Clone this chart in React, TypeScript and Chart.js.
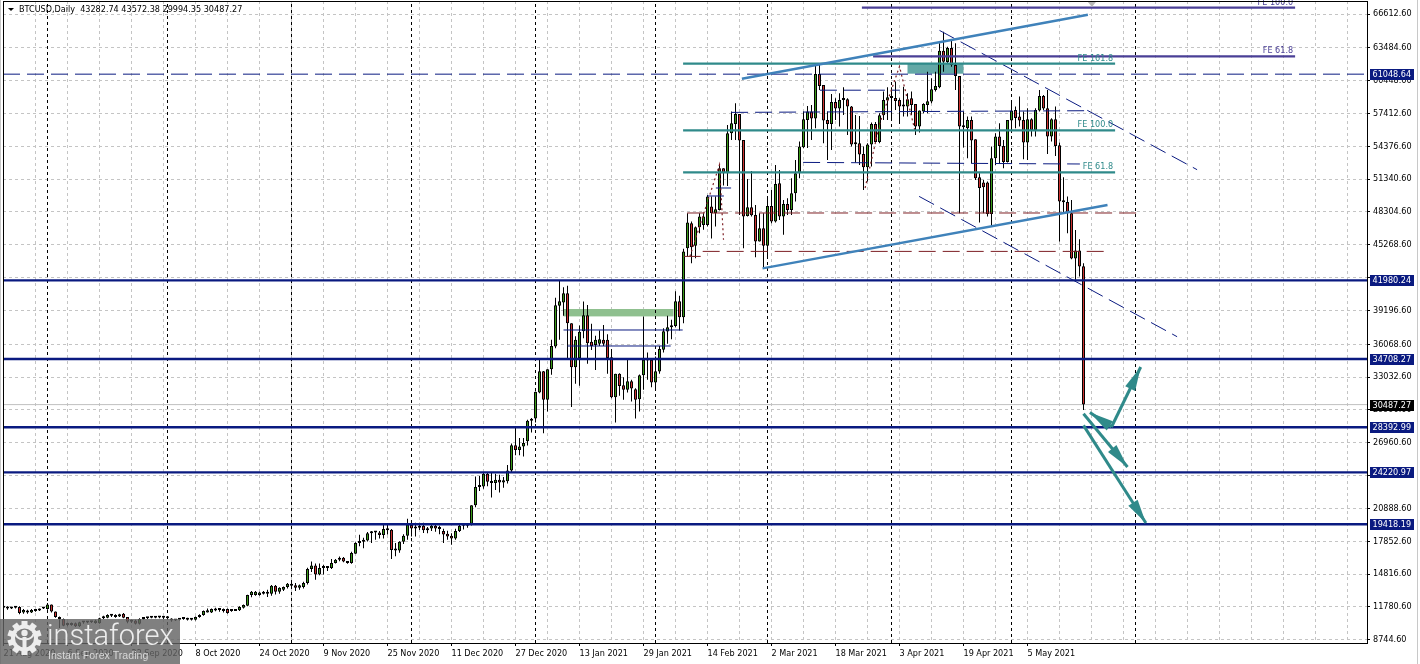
import React, { useEffect, useRef } from "react";
import { Chart, registerables } from "chart.js";

Chart.register(...registerables);

const opens = [
11890,11700,11640,11700,11770,11270,11450,11270,11450,11450,
11640,11580,12010,11360,10840,10650,10280,10100,10280,9980,
10350,10340,10350,10290,10280,10720,10780,10960,10840,10900,
11150,10840,10530,10530,10220,10650,10720,10780,10780,10810,
10840,10780,10650,10530,10590,10650,10720,10590,10590,10840,
11030,11270,11270,11440,11500,11390,11580,11390,11400,11460,
11700,11890,12870,12870,12870,13000,13000,13000,13730,13180,
13360,13610,13730,13790,13550,13610,13980,15280,15600,14780,
15370,15370,15370,15830,16140,16320,15980,15830,16700,17680,
17810,17930,18600,18660,18660,18420,18980,18920,17050,17000,
17800,18360,19350,19040,19100,19280,18860,19040,19280,19040,
18790,18550,18360,18110,18790,19280,19280,19470,21190,22860,
22920,24090,23350,23230,23530,23290,23410,24400,26740,26300,
26620,27100,29000,29210,31610,33580,30930,33770,35860,39620,
39930,40790,38020,33950,34780,37280,38760,36300,36010,36110,
36480,36480,34880,31180,33340,32290,31860,32660,31920,30990,
33210,34570,34630,32530,33550,35560,37250,37650,37770,40050,
38570,44950,47265,45169,46895,47110,47110,48805,48189,48497,
52348,51886,55583,56446,57370,54967,47942,48743,48035,45570,
46803,45169,48867,47418,50961,47880,49051,48497,50037,51886,
54289,56815,57586,56939,61067,60050,56815,56446,58479,57863,
58726,58726,58048,54659,54659,53673,52440,54535,56446,54782,
57247,58602,58910,58849,58664,58109,58048,58818,58294,56199,
57586,58202,58510,59588,59835,63224,62176,63470,61899,60882,
56199,56045,56815,55028,51516,51023,51023,48127,53272,55275,
54412,52933,56754,57740,57124,56815,54720,56877,55891,57678,
59034,57894,55275,56877,54474,49298,49236,48189,44000,44738,
43282.74];

const highs = [
11950,11830,11760,11830,11830,11580,11520,11580,11520,11640,
11760,12130,12010,11360,10900,10700,10340,10340,10340,10400,
10400,10400,10470,10590,10780,10960,11090,11090,11090,11150,
11210,10840,10590,10590,10720,10840,10840,10840,10900,10900,
10900,10840,10720,10660,10720,10780,10780,10650,10900,11090,
11450,11640,11640,11700,11640,11640,11640,11450,11500,11830,
12010,12900,13240,13240,13180,13240,13370,13800,13800,13600,
13670,13980,14040,13980,13860,14100,15400,15980,15800,15800,
15670,15500,16200,16220,16450,16400,16030,16880,17760,18460,
18170,18700,18790,18790,18800,19360,19470,18980,17680,17860,
18500,19930,19800,19560,19560,19560,19160,19400,19500,19280,
19000,18820,18600,19000,19400,19400,19500,21190,23840,23880,
24250,24190,24200,24100,24000,23800,24900,26900,28400,27400,
27400,29100,29240,31700,34630,33600,33770,36480,40360,41960,
41350,41470,38020,36800,37800,40020,39710,37960,36850,37340,
37840,37000,35620,33340,33400,33030,34690,32780,32000,33270,
38630,35300,34780,34930,35920,37560,38700,38330,40980,40550,
44900,48190,47418,46956,48189,48190,49883,49729,49729,52656,
52348,56353,57586,58356,57370,54967,51362,52101,48959,48189,
48189,49729,50345,52656,52194,49421,49575,51423,53118,54813,
57586,58109,58202,61899,61899,60050,57586,59219,58818,59280,
59835,58818,58109,57278,57185,54351,54659,56569,56631,57432,
59434,59835,59835,60359,58818,59896,59280,59434,58294,57678,
58356,61283,60667,61283,63902,64980,63594,64271,63902,60882,
57586,57124,57124,55028,51886,51269,51116,54351,55583,56507,
54967,56815,58510,58048,58972,57586,57894,56969,57894,59588,
59126,59588,56969,58048,54721,51516,49729,49421,46648,45785,
43572.38];

const lows = [
11640,11520,11580,11640,11090,11150,11150,11210,11330,11390,
11580,11520,11270,10780,9820,9980,9980,10040,9920,9920,
10230,10280,10290,10220,10220,10660,10720,10840,10780,10840,
10720,10280,10290,10160,10160,10590,10660,10720,10720,10720,
10650,10590,10400,10470,10530,10590,10530,10530,10530,10780,
10960,11270,11210,11380,11330,11270,11150,11330,11390,11390,
11640,11830,12680,12810,12810,12930,12700,12810,12930,12990,
13240,13480,13550,13240,13360,13480,13860,15000,14290,14700,
14780,15100,15280,15800,16000,15900,15770,15770,16700,17380,
17200,17830,17680,18000,18100,18100,18470,16200,16460,16800,
17600,18000,18300,18300,18900,18620,18600,18800,18720,18500,
17680,18000,17530,18000,18700,18950,19100,19320,21000,22500,
22700,22950,21900,22600,22350,22800,23200,24200,25800,25800,
25700,26700,27900,28840,31550,27850,29850,33240,35700,36480,
38700,34790,30260,32410,32230,36630,34260,35550,33700,35920,
35920,33340,31080,28840,31300,30930,31610,30780,29200,29850,
31860,32780,32100,31860,33340,35300,36110,36540,37650,37340,
38020,44180,43567,44029,46340,46650,46956,45847,46956,48435,
50746,50715,54967,54967,48035,44953,47880,47880,44122,45570,
43105,44183,47265,47326,47572,46186,48035,48035,49267,51423,
54197,54227,54967,56045,59588,54659,53118,54043,56815,56199,
57278,55429,54351,52872,52656,50345,51116,52502,54720,54659,
56815,56815,56815,57740,56446,57124,57124,57278,55429,55645,
57432,57432,58356,59434,59742,61283,62053,61745,59588,48189,
54258,53272,52810,51269,47326,48189,47880,46956,52656,52810,
52348,52872,55891,56045,56199,53180,53118,55275,55275,57586,
57740,53673,54813,53488,45570,48189,46340,43937,42027,42335,
29994.35];

const closes = [
11700,11640,11700,11760,11210,11500,11270,11500,11390,11580,
11700,12010,11360,10840,10650,10040,10100,10290,9980,10350,
10340,10350,10400,10530,10720,10900,11030,10970,11030,11090,
10780,10400,10400,10220,10650,10720,10780,10780,10810,10840,
10780,10720,10530,10590,10650,10680,10590,10590,10840,11030,
11400,11460,11580,11580,11500,11540,11210,11400,11450,11770,
11950,12870,13180,13180,13120,13120,13120,13730,13180,13550,
13610,13920,13920,13550,13790,13980,15290,15600,14780,15370,
15370,15370,15830,16140,16290,15980,15830,16760,17680,17810,
17930,18600,18660,18660,18420,18980,18860,17050,17000,17800,
18360,19400,19040,19100,19280,18860,19040,19280,19040,18980,
18480,18300,18110,18790,19280,19280,19350,21190,22860,22980,
24090,23350,23230,23530,23290,23500,24400,26740,26300,26620,
26930,29000,29020,31670,33580,30930,33770,35920,39680,40050,
40790,38020,33950,36480,37220,38760,36170,35920,36480,36540,
36110,34810,31180,33340,32220,31860,32660,31980,30930,33210,
34630,34690,32530,33580,35620,37280,37650,37830,40050,38570,
44650,47330,45046,46895,47880,47880,49729,48189,48559,52348,
51886,55583,56507,57370,54905,47880,48743,48004,45570,46803,
45169,48867,47418,50900,47880,49051,48497,50037,51886,54351,
56877,57586,56939,61067,59958,56754,56446,58479,57863,58664,
58664,58048,54535,54566,53611,52440,54535,56446,54782,57247,
58664,58910,58849,58571,58048,58048,58726,58202,56199,57678,
58294,58541,59650,59958,63224,62207,63470,61899,60882,56199,
56140,56815,54905,51423,50530,50592,48127,53272,55275,54412,
52933,56815,57678,57000,56754,54720,56877,55891,57740,59034,
57863,55275,56877,54412,49267,49205,48189,44000,44738,43259,
30487.27];

const priceTicks = [66612.6,63484.6,60448.6,57412.6,54376.6,51340.6,48304.6,45268.6,42232.6,39196.6,36068.6,33032.6,29996.6,26960.6,23924.6,20888.6,17852.6,14816.6,11780.6,8744.6];
const coveredTickLabels = [42232.6];
const dateLabels = ["21 Aug 2020","6 Sep 2020","22 Sep 2020","8 Oct 2020","24 Oct 2020","9 Nov 2020","25 Nov 2020","11 Dec 2020","27 Dec 2020","13 Jan 2021","29 Jan 2021","14 Feb 2021","2 Mar 2021","18 Mar 2021","3 Apr 2021","19 Apr 2021","5 May 2021"];
const gridIndices = [0,8,16,24,32,40,48,56,64,72,80,88,96,104,112,120,128,136,144,152,160,168,176,184,192,200,208,216,224,232,240,248,256,264,272,280,288,296,304,312,320,328,336];
const monthStarts = [11,41,72,102,133,163,191,222,252,283];

const supportLevels = [41980.24,34708.27,28392.99,24220.97,19418.19];
const dashedLevel = 61048.64;
const lastPrice = 30487.27;

const xMin = -0.125, xMax = 340.875, yMin = 8442, yMax = 67815;

type P = [number, number];
const tealLevels = [62016,55848,51964];
const tealSpan: P = [169.9,277.9];
const tealNames = ["FE 161.8","FE 100.0","FE 61.8"];
const purpleLevels = [67195,62691];
const purpleStarts = [214.6,217.4];
const purpleEnd = 322.9;
const purpleNames = ["FE 100.0","FE 61.8"];
const channelUp: P[] = [[184.6,60629],[271.1,66548]];
const channelLow: P[] = [[189.75,43086],[276,48949]];
const diagonalA: P[] = [[234,65096],[298.4,52214]];
const diagonalB: P[] = [[228.9,49745],[293.4,36770]];
const maroonA: P[] = [[170.9,48209],[283.3,48209]];
const maroonB: P[] = [[174.8,44658],[275.4,44658]];
const maroonC: P[] = [[170.1,44195],[174.3,44195]];
const zigzagA: P[] = [[171.6,44195],[179,52676],[180,45740]];
const zigzagB: P[] = [[215.4,50521],[219.1,56532],[224,61767],[227.9,55756]];
const navyDashA: P[] = [[181.9,57513],[271.6,57670]];
const navyDashB: P[] = [[199.9,52889],[269.1,52741]];
const navyDashC: P[] = [[204.1,59566],[224.1,59566]];
const navyThinA: P[] = [[178.1,50521],[181.9,50521]];
const navyThinB: P[] = [[175.9,49782],[180.1,49782]];
const navyThinC: P[] = [[140,37389],[169.8,37389]];
const navyThinD: P[] = [[141,35910],[166.8,35910]];
const tealZone = [226,240,62016,61092];
const greenZone = [140,167.5,39331,38647];
const arrowA: P[] = [[270,29649],[281,24720]];
const arrowB: P[] = [[270,28567],[285.6,19541]];
const arrowC: P[] = [[277,28419],[271.6,29769]];
const arrowD: P[] = [[277,28419],[284.3,33968]];

const NAVY = "#0a1a80", TEAL = "#2f8a8a", PURPLE = "#4a3f96", STEEL = "#3f82ba", MAROON = "#7d1f24";
const FONT = "'DejaVu Sans Condensed', 'Liberation Sans', sans-serif";

const seg = (pts: P[], color: string, width: number, dash: number[] = [], order = 2) => ({
  type: "line" as const,
  data: pts.map(([x, y]) => ({ x, y })),
  borderColor: color,
  borderWidth: width,
  borderDash: dash,
  pointRadius: 0,
  tension: 0,
  fill: false,
  order,
});

const overlay = {
  id: "overlay",
  beforeDatasetsDraw(chart: any) {
    const { ctx, scales: { x, y } } = chart;
    const zone = (z: number[], c: string) => {
      ctx.fillStyle = c;
      const l = x.getPixelForValue(z[0]), r = x.getPixelForValue(z[1]);
      const t = y.getPixelForValue(z[2]), b = y.getPixelForValue(z[3]);
      ctx.fillRect(l, t, r - l, b - t);
    };
    zone(tealZone, "#63a8a6");
    zone(greenZone, "#8fc08f");
  },
  afterDatasetsDraw(chart: any) {
    const { ctx, scales: { x, y } } = chart;
    ctx.save();
    ctx.fillStyle = TEAL;
    [arrowA, arrowB, arrowC, arrowD].forEach((a) => {
      const x0 = x.getPixelForValue(a[0][0]), y0 = y.getPixelForValue(a[0][1]);
      const x1 = x.getPixelForValue(a[1][0]), y1 = y.getPixelForValue(a[1][1]);
      const ang = Math.atan2(y1 - y0, x1 - x0);
      const len = 24, half = 5.5;
      const bx = x1 - Math.cos(ang) * len, by = y1 - Math.sin(ang) * len;
      ctx.beginPath();
      ctx.moveTo(x1, y1);
      ctx.lineTo(bx - Math.sin(ang) * half, by + Math.cos(ang) * half);
      ctx.lineTo(bx + Math.sin(ang) * half, by - Math.cos(ang) * half);
      ctx.closePath();
      ctx.fill();
    });
    ctx.font = "9px " + FONT;
    ctx.textBaseline = "bottom";
    ctx.textAlign = "right";
    ctx.fillStyle = TEAL;
    tealLevels.forEach((v, k) => ctx.fillText(tealNames[k], x.getPixelForValue(tealSpan[1]) - 2, y.getPixelForValue(v) - 1));
    ctx.fillStyle = PURPLE;
    purpleLevels.forEach((v, k) => ctx.fillText(purpleNames[k], x.getPixelForValue(purpleEnd) - 2, y.getPixelForValue(v) - 1));
    const mx = x.getPixelForValue(272.1);
    ctx.fillStyle = "#b8b8b8";
    ctx.beginPath();
    ctx.moveTo(mx - 4, 2);
    ctx.lineTo(mx + 4, 2);
    ctx.lineTo(mx, 7);
    ctx.closePath();
    ctx.fill();
    ctx.restore();
  },
  afterDraw(chart: any) {
    const { ctx, chartArea: a, scales: { y } } = chart;
    ctx.save();
    ctx.strokeStyle = "#000";
    ctx.lineWidth = 1;
    ctx.strokeRect(a.left + 0.5, a.top + 0.5, a.right - a.left, a.bottom - a.top);
    ctx.strokeStyle = "#c8c8c8";
    ctx.beginPath();
    ctx.moveTo(0.5, 0);
    ctx.lineTo(0.5, 664);
    ctx.moveTo(1417.5, 0);
    ctx.lineTo(1417.5, 664);
    ctx.stroke();
    ctx.fillStyle = "#000";
    ctx.beginPath();
    ctx.moveTo(8, 8);
    ctx.lineTo(14, 8);
    ctx.lineTo(11, 11);
    ctx.closePath();
    ctx.fill();
    ctx.font = "9px " + FONT;
    ctx.textBaseline = "middle";
    ctx.textAlign = "left";
    ctx.fillText("BTCUSD,Daily  43282.74 43572.38 29994.35 30487.27", 19, 9.5);
    const box = (v: number, bg: string) => {
      const py = Math.round(y.getPixelForValue(v));
      ctx.fillStyle = bg;
      ctx.fillRect(1370, py - 5, 44, 11);
      ctx.fillStyle = "#fff";
      ctx.font = "9px " + FONT;
      ctx.fillText(v.toFixed(2), 1372.5, py + 0.5);
    };
    [dashedLevel, ...supportLevels].forEach((v) => box(v, NAVY));
    box(lastPrice, "#000");
    ctx.fillStyle = "rgba(99,99,99,0.81)";
    ctx.fillRect(0, 619, 180, 45);
    const cx = 24.5, cy = 638;
    ctx.fillStyle = "#ededed";
    for (let k = 0; k < 10; k++) {
      const t = (k / 10) * Math.PI * 2;
      ctx.save();
      ctx.translate(cx, cy);
      ctx.rotate(t);
      ctx.fillRect(-3, -17, 6, 6);
      ctx.restore();
    }
    ctx.beginPath();
    ctx.arc(cx, cy, 13.5, 0, Math.PI * 2);
    ctx.fill();
    ctx.fillStyle = "#7d7d7d";
    ctx.beginPath();
    ctx.arc(cx, cy, 9.5, 0, Math.PI * 2);
    ctx.fill();
    ctx.fillStyle = "#ededed";
    ctx.beginPath();
    ctx.arc(cx, cy - 5, 3.2, 0, Math.PI * 2);
    ctx.fill();
    ctx.fillRect(cx - 2, cy - 1, 4, 12);
    ctx.strokeStyle = "#ededed";
    ctx.lineWidth = 2;
    ctx.beginPath();
    ctx.moveTo(cx - 9, cy - 4);
    ctx.quadraticCurveTo(cx - 7, cy + 2, cx, cy + 1);
    ctx.quadraticCurveTo(cx + 7, cy + 2, cx + 9, cy - 4);
    ctx.stroke();
    ctx.fillStyle = "#ededed";
    ctx.font = "300 29px Roboto, sans-serif";
    ctx.textBaseline = "alphabetic";
    ctx.fillText("instaforex", 47, 645);
    ctx.fillStyle = "#d8d8d8";
    ctx.font = "10.6px 'Liberation Sans', sans-serif";
    ctx.fillText("Instant Forex Trading", 48, 659);
    ctx.restore();
  },
};

export default function App() {
  const ref = useRef<HTMLCanvasElement | null>(null);
  useEffect(() => {
    const idx = opens.map((_, i) => i);
    const fullX = (v: number): P[] => [[xMin, v], [xMax, v]];
    const chart = new Chart(ref.current as HTMLCanvasElement, {
      type: "bar",
      data: {
        datasets: [
          ...monthStarts.map((m) => seg([[m, yMin], [m, yMax]], "#000", 1, [3, 3], 40)),
          seg(fullX(lastPrice), "#c0c0c0", 1, [], 30),
          {
            type: "bar" as const,
            data: idx.map((i) => ({ x: i, y: [lows[i], highs[i]] })),
            backgroundColor: "#000",
            barThickness: 1,
            grouped: false,
            borderWidth: 0,
            inflateAmount: 0,
            order: 20,
          },
          {
            type: "bar" as const,
            data: idx.map((i) => ({ x: i, y: [opens[i], closes[i]] })),
            backgroundColor: idx.map((i) => (closes[i] >= opens[i] ? "#3a9a18" : "#cc3230")),
            borderColor: "#000",
            borderWidth: 1,
            borderSkipped: false,
            barThickness: 3,
            grouped: false,
            minBarLength: 2,
            inflateAmount: 0,
            order: 10,
          },
          seg(fullX(dashedLevel), NAVY, 1, [17, 7]),
          ...supportLevels.map((v) => seg(fullX(v), NAVY, 2.4, [], 1)),
          ...tealLevels.map((v) => seg([[tealSpan[0], v], [tealSpan[1], v]], TEAL, 2.2)),
          ...purpleLevels.map((v, k) => seg([[purpleStarts[k], v], [purpleEnd, v]], PURPLE, 2.2)),
          seg(channelUp, STEEL, 2.4, [], 1),
          seg(channelLow, STEEL, 2.4, [], 1),
          seg(diagonalA, NAVY, 1, [17, 7]),
          seg(diagonalB, NAVY, 1, [17, 7]),
          seg(maroonA, MAROON, 1, [17, 7]),
          seg(maroonB, MAROON, 1, [17, 7]),
          seg(maroonC, MAROON, 1),
          seg(zigzagA, MAROON, 1.2, [2, 3]),
          seg(zigzagB, MAROON, 1.2, [2, 3]),
          seg(navyDashA, NAVY, 1, [17, 7]),
          seg(navyDashB, NAVY, 1, [17, 7]),
          seg(navyDashC, NAVY, 1, [17, 7]),
          seg(navyThinA, NAVY, 1),
          seg(navyThinB, NAVY, 1),
          seg(navyThinC, NAVY, 1),
          seg(navyThinD, NAVY, 1),
          seg(arrowA, TEAL, 3, [], 0),
          seg(arrowB, TEAL, 3, [], 0),
          seg(arrowC, TEAL, 3, [], 0),
          seg(arrowD, TEAL, 3, [], 0),
        ] as any,
      },
      options: {
        animation: false,
        responsive: false,
        devicePixelRatio: 1,
        layout: { padding: { left: 3, top: 1, right: 0, bottom: 0 } },
        plugins: { legend: { display: false }, tooltip: { enabled: false } },
        events: [],
        scales: {
          x: {
            type: "linear",
            offset: false,
            min: xMin,
            max: xMax,
            afterBuildTicks: (s: any) => {
              s.ticks = gridIndices.map((value) => ({ value }));
            },
            afterFit: (s: any) => {
              s.height = 21;
              s.paddingLeft = 0;
              s.paddingRight = 0;
            },
            border: { display: false, dash: [3, 3] },
            grid: {
              offset: false,
              color: (c: any) => (c.tick && c.tick.value === 0 ? "rgba(0,0,0,0)" : "#c4c4c4"),
              tickColor: (c: any) => (c.tick && c.tick.value % 16 === 0 && c.tick.value <= 256 ? "#000" : "rgba(0,0,0,0)"),
              tickLength: 3,
              lineWidth: 1,
            },
            ticks: {
              autoSkip: false,
              maxRotation: 0,
              minRotation: 0,
              align: "start",
              padding: 2,
              color: "#000",
              font: { family: FONT, size: 9 },
              callback: (v: any) => (v % 16 === 0 && v / 16 < dateLabels.length ? dateLabels[v / 16] : ""),
            },
          },
          y: {
            type: "linear",
            position: "right",
            min: yMin,
            max: yMax,
            afterBuildTicks: (s: any) => {
              s.ticks = priceTicks.map((value) => ({ value }));
            },
            afterFit: (s: any) => {
              s.width = 53;
              s.paddingTop = 0;
              s.paddingBottom = 0;
            },
            border: { display: false, dash: [3, 3] },
            grid: { color: "#c4c4c4", tickColor: "#000", tickLength: 3, lineWidth: 1 },
            ticks: {
              autoSkip: false,
              padding: 3,
              color: "#000",
              font: { family: FONT, size: 9 },
              callback: (v: any) => (coveredTickLabels.includes(Number(v)) ? "" : Number(v).toFixed(2)),
            },
          },
        },
      } as any,
      plugins: [overlay],
    } as any);
    return () => chart.destroy();
  }, []);
  return (
    <div style={{ position: "absolute", left: 0, top: 0, width: 1420, height: 664, overflow: "hidden", background: "#fff" }}>
      <canvas ref={ref} width={1420} height={664} style={{ display: "block" }} />
    </div>
  );
}
